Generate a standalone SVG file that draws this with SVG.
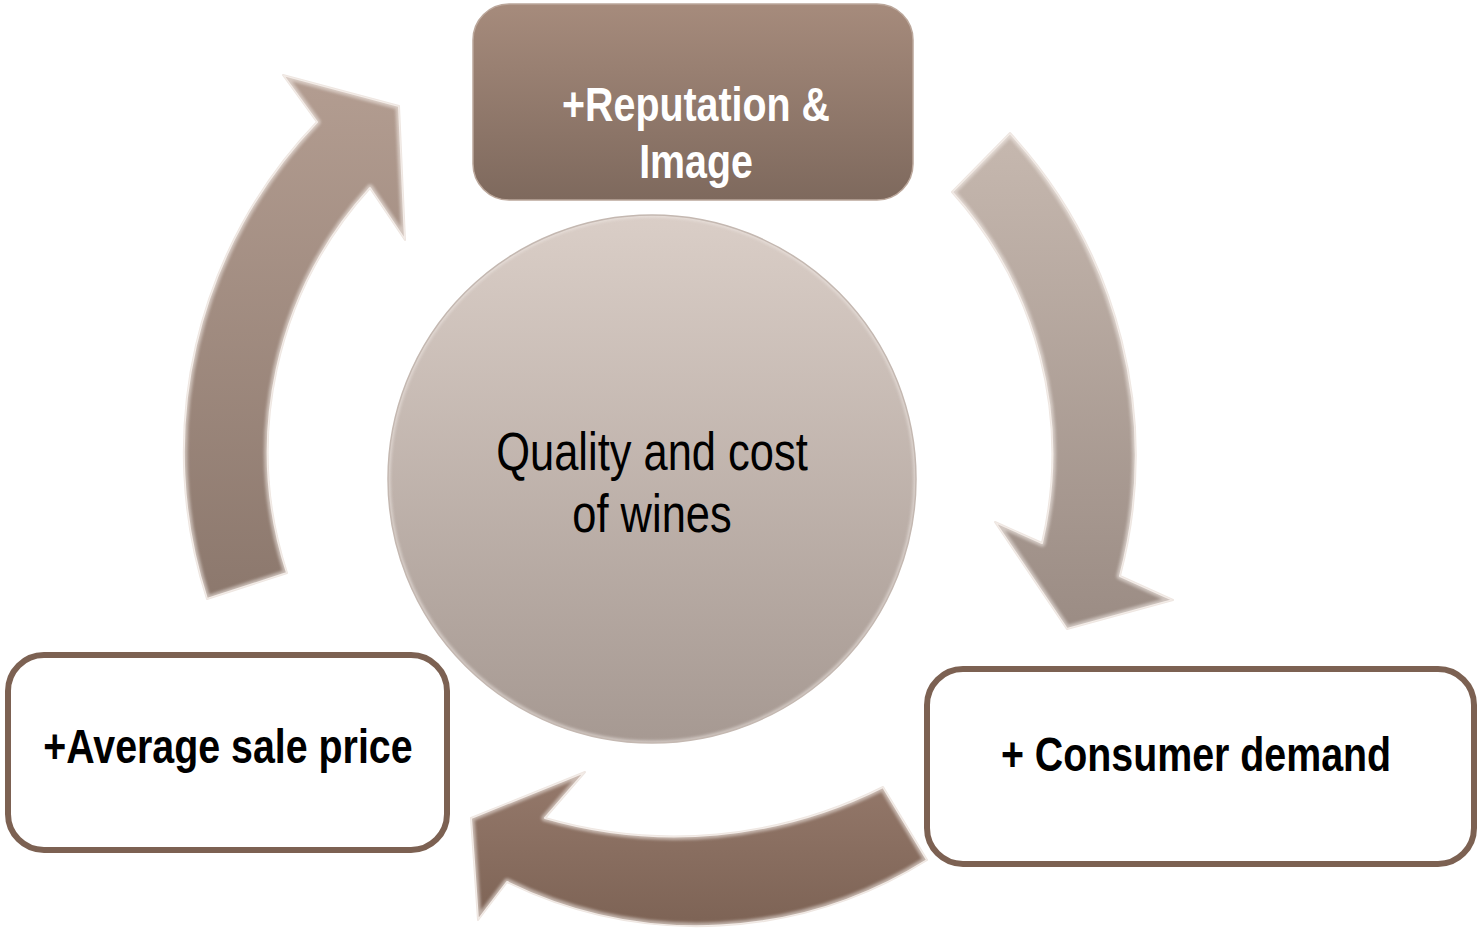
<svg xmlns="http://www.w3.org/2000/svg" xmlns:xlink="http://www.w3.org/1999/xlink" width="1479" height="928" viewBox="0 0 1479 928">
  <defs>
    <linearGradient id="gradTop" x1="0" y1="0" x2="0" y2="1">
      <stop offset="0" stop-color="#a68b7c"/>
      <stop offset="1" stop-color="#7e695d"/>
    </linearGradient>
    <linearGradient id="gradCore" x1="0" y1="0" x2="0" y2="1">
      <stop offset="0" stop-color="#dacec7"/>
      <stop offset="1" stop-color="#a69992"/>
    </linearGradient>
    <linearGradient id="gradLeft" x1="0" y1="0" x2="0" y2="1">
      <stop offset="0" stop-color="#b39d91"/>
      <stop offset="1" stop-color="#8c786d"/>
    </linearGradient>
    <linearGradient id="gradRight" x1="0" y1="0" x2="0" y2="1">
      <stop offset="0" stop-color="#c6b8af"/>
      <stop offset="1" stop-color="#9b8c84"/>
    </linearGradient>
    <linearGradient id="gradBottom" x1="0" y1="0" x2="0" y2="1">
      <stop offset="0" stop-color="#95796b"/>
      <stop offset="1" stop-color="#7d6355"/>
    </linearGradient>

    <!-- arrow outlines, reused for fill and bevel rim -->
    <path id="shapeLeft" d="M207,599 A476,476 0 0 1 317,122 L283,75 L399,106 L405,240 L370,188 A392,392 0 0 0 287,573 Z"/>
    <path id="shapeRight" d="M1010,133 A476,476 0 0 1 1120,576 L1173,600 L1067,629 L995,522 L1042,543 A392,392 0 0 0 952,192 Z"/>
    <path id="shapeBottom" d="M927,860 A432,432 0 0 1 507,882 L478,920 L471,818 L585,772 L545,818 A465,465 0 0 0 883,787 Z"/>

    <clipPath id="clipLeft"><use xlink:href="#shapeLeft"/></clipPath>
    <clipPath id="clipRight"><use xlink:href="#shapeRight"/></clipPath>
    <clipPath id="clipBottom"><use xlink:href="#shapeBottom"/></clipPath>
    <clipPath id="clipCore"><circle cx="652" cy="479" r="264"/></clipPath>

    <filter id="soft" x="-5%" y="-5%" width="110%" height="110%">
      <feGaussianBlur stdDeviation="1.6"/>
    </filter>
  </defs>
  <style>
    .arrow { stroke: #eee6e1; stroke-width: 2; stroke-linejoin: round; }
    .rim { fill: none; stroke: #f7f1ed; stroke-width: 7; stroke-linejoin: round; opacity: 0.55; }
    .box { fill: #ffffff; stroke: #7c6152; stroke-width: 6; }
    .label { font-family: "Liberation Sans", Arial, sans-serif; text-anchor: middle; }
    .bold { font-weight: bold; font-size: 48px; }
  </style>

  <rect width="1479" height="928" fill="#ffffff"/>

  <!-- curved cycle arrows -->
  <g id="connectors">
    <g id="arrow-price-to-reputation">
      <use xlink:href="#shapeLeft" class="arrow" fill="url(#gradLeft)"/>
      <g clip-path="url(#clipLeft)"><use xlink:href="#shapeLeft" class="rim" filter="url(#soft)"/></g>
    </g>
    <g id="arrow-reputation-to-demand">
      <use xlink:href="#shapeRight" class="arrow" fill="url(#gradRight)"/>
      <g clip-path="url(#clipRight)"><use xlink:href="#shapeRight" class="rim" filter="url(#soft)"/></g>
    </g>
    <g id="arrow-demand-to-price">
      <use xlink:href="#shapeBottom" class="arrow" fill="url(#gradBottom)"/>
      <g clip-path="url(#clipBottom)"><use xlink:href="#shapeBottom" class="rim" filter="url(#soft)"/></g>
    </g>
  </g>

  <!-- central hub; labels use a condensed horizontal scale -->
  <g id="node-core">
    <circle cx="652" cy="479" r="264" fill="url(#gradCore)"/>
    <g clip-path="url(#clipCore)">
      <circle cx="652" cy="479" r="264" fill="none" stroke="#efe8e4" stroke-width="5" opacity="0.6" filter="url(#soft)"/>
    </g>
    <circle cx="652" cy="479" r="264" fill="none" stroke="#c4b8b1" stroke-width="1.5"/>
    <text class="label" transform="translate(652,470) scale(0.82,1)" font-size="53" fill="#000000">Quality and cost</text>
    <text class="label" transform="translate(652,532) scale(0.82,1)" font-size="53" fill="#000000">of wines</text>
  </g>

  <g id="node-reputation">
    <rect x="473" y="4" width="440" height="196" rx="36" fill="url(#gradTop)" stroke="#bba79b" stroke-width="1.5"/>
    <text class="label bold" transform="translate(696,121) scale(0.82,1)" fill="#ffffff">+Reputation &amp;</text>
    <text class="label bold" transform="translate(696,178) scale(0.82,1)" fill="#ffffff">Image</text>
  </g>

  <g id="node-demand">
    <rect class="box" x="927" y="669" width="547" height="195" rx="36"/>
    <text class="label bold" transform="translate(1196,771) scale(0.82,1)" fill="#000000">+ Consumer demand</text>
  </g>

  <g id="node-price">
    <rect class="box" x="8" y="655" width="439" height="195" rx="36"/>
    <text class="label bold" transform="translate(228,763) scale(0.82,1)" fill="#000000">+Average sale price</text>
  </g>
</svg>
